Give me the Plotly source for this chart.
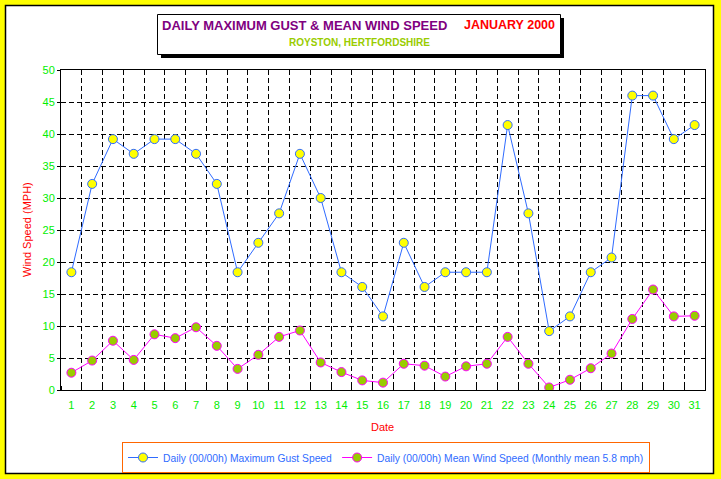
import plotly.graph_objects as go

dates = list(range(1, 32))
gust_mph = [18.4, 32.2, 39.2, 36.9, 39.2, 39.2, 36.9, 32.2, 18.4, 23.0,
            27.6, 36.9, 30.0, 18.4, 16.1, 11.5, 23.0, 16.1, 18.4, 18.4,
            18.4, 41.4, 27.6, 9.2, 11.5, 18.4, 20.7, 46.0, 46.0, 39.2, 41.4]
mean_mph = [2.7, 4.6, 7.7, 4.7, 8.7, 8.1, 9.8, 6.9, 3.3, 5.5,
            8.3, 9.3, 4.3, 2.8, 1.5, 1.15, 4.1, 3.8, 2.1, 3.7,
            4.1, 8.3, 4.1, 0.4, 1.6, 3.4, 5.7, 11.1, 15.7, 11.5, 11.6]
y_ticks = [0, 5, 10, 15, 20, 25, 30, 35, 40, 45, 50]

FONT = "Liberation Sans, Arial, sans-serif"
W, H = 721, 479
L, R, T, B = 61, 705, 70, 390  # plot area pixels


def px(x):
    return (x - L) / (R - L)


def py(y):
    return (B - y) / (B - T)


fig = go.Figure()
fig.add_trace(go.Scatter(
    x=dates, y=gust_mph, mode="lines+markers",
    name="Daily (00/00h) Maximum Gust Speed",
    line=dict(color="#2F6BFF", width=1),
    marker=dict(size=9, color="#FFFF00", line=dict(color="#2F6BFF", width=1)),
))
fig.add_trace(go.Scatter(
    x=dates, y=mean_mph, mode="lines+markers",
    name="Daily (00/00h) Mean Wind Speed (Monthly mean 5.8 mph)",
    line=dict(color="#FF00FF", width=1),
    marker=dict(size=9, color="#99CC00", line=dict(color="#FF00FF", width=1)),
))

shapes = [
    # white inner frame
    dict(type="rect", xref="paper", yref="paper", layer="below",
         x0=px(5.5), x1=px(713.5), y0=py(473.5), y1=py(5.5),
         fillcolor="white", line=dict(color="black", width=1.5)),
    # title box shadow
    dict(type="rect", xref="paper", yref="paper", layer="below",
         x0=px(161), x1=px(564), y0=py(58), y1=py(18),
         fillcolor="black", line=dict(width=0)),
    # title box
    dict(type="rect", xref="paper", yref="paper", layer="below",
         x0=px(157.5), x1=px(560.5), y0=py(54.5), y1=py(14.5),
         fillcolor="white", line=dict(color="black", width=1)),
]

annotations = [
    dict(text="<b>DAILY MAXIMUM GUST &amp; MEAN WIND SPEED</b>", xref="paper", yref="paper",
         x=px(160), y=py(25), xanchor="left", yanchor="middle", showarrow=False,
         font=dict(family=FONT, size=13, color="#800080")),
    dict(text="<b>JANUARY 2000</b>", xref="paper", yref="paper",
         x=px(557), y=py(25), xanchor="right", yanchor="middle", showarrow=False,
         font=dict(family=FONT, size=12.5, color="#FF0000")),
    dict(text="<b>ROYSTON, HERTFORDSHIRE</b>", xref="paper", yref="paper",
         x=px(359), y=py(43), xanchor="center", yanchor="middle", showarrow=False,
         font=dict(family=FONT, size=10, color="#99CC00")),
    dict(text="Date", xref="paper", yref="paper",
         x=px(382), y=py(427), xanchor="center", yanchor="middle", showarrow=False,
         font=dict(family=FONT, size=11, color="#FF0000")),
    dict(text="Wind Speed (MPH)", xref="paper", yref="paper", textangle=-90,
         x=px(27), y=py(230), xanchor="center", yanchor="middle", showarrow=False,
         font=dict(family=FONT, size=11, color="#FF0000")),
]

fig.update_layout(
    width=W, height=H,
    margin=dict(l=L, r=W - R, t=T, b=H - B, autoexpand=False),
    paper_bgcolor="#FFFF00", plot_bgcolor="white",
    font=dict(family=FONT, size=11),
    shapes=shapes, annotations=annotations,
    showlegend=True,
    legend=dict(orientation="h", xref="container", yref="container",
                x=386 / W, y=1 - 442 / H, xanchor="center", yanchor="top",
                bordercolor="#FF6600", borderwidth=1, bgcolor="white",
                font=dict(family=FONT, size=10.3, color="#2F6BFF"),
                itemwidth=30, tracegroupgap=0),
)
fig.update_xaxes(
    range=[0.5, 31.5], tickmode="array", tickvals=dates, ticktext=[str(d) for d in dates],
    showgrid=False, ticks="", tickfont=dict(family=FONT, size=11, color="#00EE00"),
    ticklabelstandoff=5, automargin=False,
    showline=True, linecolor="black", linewidth=1, mirror=True, zeroline=False,
    minor=dict(tick0=0.5, dtick=1, showgrid=True, gridcolor="black", griddash="5px,3px",
               gridwidth=1, ticks="inside", ticklen=4, tickcolor="black"),
)
fig.update_yaxes(
    range=[0, 50], tickmode="array", tickvals=y_ticks, automargin=False,
    showgrid=True, gridcolor="black", griddash="5px,3px", gridwidth=1,
    ticks="outside", ticklen=3, tickcolor="black",
    tickfont=dict(family=FONT, size=11, color="#00EE00"),
    showline=True, linecolor="black", linewidth=1, mirror=True, zeroline=False,
)

fig.write_html("out.html", config={"displayModeBar": False},
               post_script="document.body.style.margin='0';document.body.style.padding='0';")
